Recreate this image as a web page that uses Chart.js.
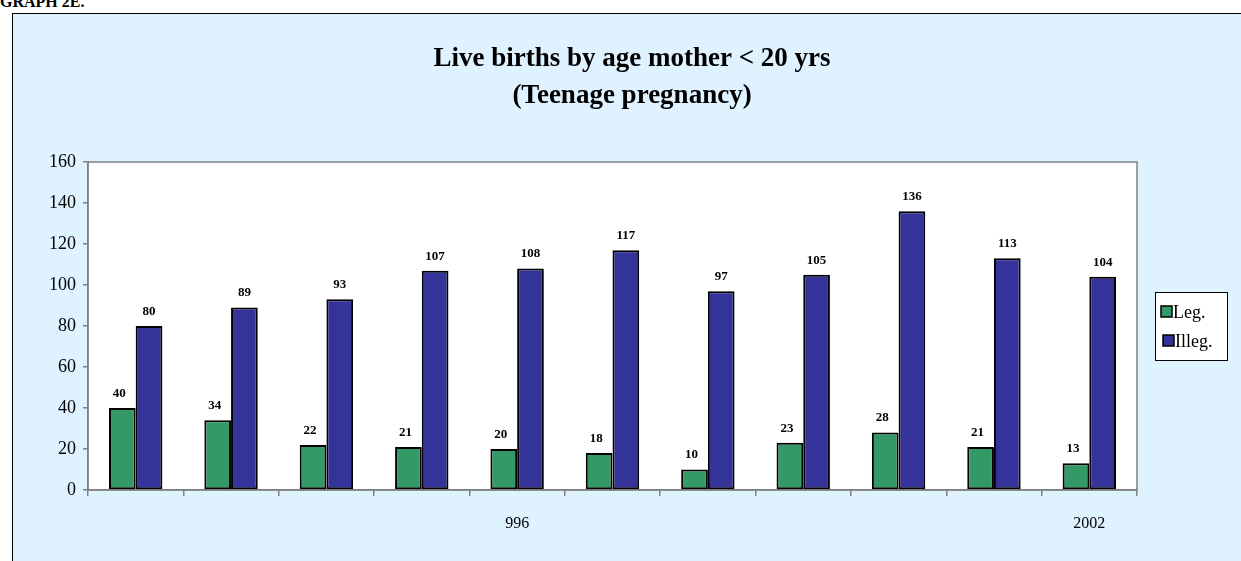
<!DOCTYPE html>
<html>
<head>
<meta charset="utf-8">
<script src="https://cdn.jsdelivr.net/npm/chart.js@4.4.1/dist/chart.umd.min.js"></script>
<style>
  html, body { margin: 0; padding: 0; background: #ffffff; width: 1241px; height: 561px; overflow: hidden; }
  #hdr { position: absolute; left: 0px; top: -7px; font: bold 16px "Liberation Serif", serif; color: #000; }
  #box { position: absolute; left: 12px; top: 13px; width: 1240px; height: 560px; border: 1px solid #000; background: #dff2ff; box-sizing: border-box; border-width: 1px 0 0 1px; }
  #c { position: absolute; left: 0; top: 0; }
</style>
</head>
<body>
<div id="hdr">GRAPH 2E.</div>
<div id="box"></div>
<canvas id="c" width="1241" height="561"></canvas>
<script>
const categories = ['', '', '', '', '996', '', '', '', '', '', '2002'];
const legValues = [40, 34, 22, 21, 20, 18, 10, 23, 28, 21, 13];
const illegValues = [80, 89, 93, 107, 108, 117, 97, 105, 136, 113, 104];
const yTicks = [0, 20, 40, 60, 80, 100, 120, 140, 160];
const seriesNames = ['Leg.', 'Illeg.'];
const titleLines = ['Live births by age mother < 20 yrs', '(Teenage pregnancy)'];

const SERIF = '"Liberation Serif", "Times New Roman", serif';

const plotBg = {
  id: 'plotBg',
  beforeDraw(chart) {
    const a = chart.chartArea, ctx = chart.ctx;
    ctx.save();
    ctx.fillStyle = '#ffffff';
    ctx.fillRect(a.left, a.top, a.right - a.left, a.bottom - a.top);
    ctx.strokeStyle = '#808080';
    ctx.lineWidth = 1.5;
    ctx.strokeRect(a.left, a.top, a.right - a.left, a.bottom - a.top);
    ctx.restore();
  }
};

const centeredTitle = {
  id: 'centeredTitle',
  afterDraw(chart) {
    const ctx = chart.ctx;
    ctx.save();
    ctx.font = 'bold 27px ' + SERIF;
    ctx.fillStyle = '#000';
    ctx.textAlign = 'center';
    ctx.textBaseline = 'middle';
    titleLines.forEach((t, i) => ctx.fillText(t, 632, 59 + i * 37));
    ctx.restore();
  }
};

const valueLabels = {
  id: 'valueLabels',
  afterDatasetsDraw(chart) {
    const ctx = chart.ctx;
    ctx.save();
    ctx.font = 'bold 13px ' + SERIF;
    ctx.fillStyle = '#000';
    ctx.textAlign = 'center';
    ctx.textBaseline = 'bottom';
    chart.data.datasets.forEach((ds, i) => {
      chart.getDatasetMeta(i).data.forEach((bar, j) => {
        ctx.fillText(String(ds.data[j]), bar.x - (i === 0 ? 3 : 0), bar.y - 8);
      });
    });
    ctx.restore();
  }
};

const boxLegend = {
  id: 'boxLegend',
  afterDraw(chart) {
    const ctx = chart.ctx;
    const x = 1155, y = 292, w = 72, h = 68;
    ctx.save();
    ctx.fillStyle = '#ffffff';
    ctx.fillRect(x, y, w, h);
    ctx.strokeStyle = '#000';
    ctx.lineWidth = 1;
    ctx.strokeRect(x + 0.5, y + 0.5, w, h);
    ctx.font = '18px ' + SERIF;
    ctx.textBaseline = 'middle';
    chart.data.datasets.forEach((ds, i) => {
      const cy = y + 20 + i * 29;
      const bx = x + 6 + (i === 1 ? 2 : 0);
      ctx.fillStyle = ds.backgroundColor;
      ctx.fillRect(bx, cy - 6, 11, 11);
      ctx.strokeStyle = '#000';
      ctx.lineWidth = 1.5;
      ctx.strokeRect(bx, cy - 6, 11, 11);
      ctx.fillStyle = '#000';
      ctx.fillText(ds.label, bx + 12, cy + 1);
    });
    ctx.restore();
  }
};

new Chart(document.getElementById('c'), {
  type: 'bar',
  data: {
    labels: categories,
    datasets: [
      { label: seriesNames[0], data: legValues, backgroundColor: '#339966', borderColor: '#000', borderWidth: 2, borderSkipped: false },
      { label: seriesNames[1], data: illegValues, backgroundColor: '#333399', borderColor: '#000', borderWidth: 2, borderSkipped: false }
    ]
  },
  options: {
    responsive: false,
    animation: false,
    layout: { padding: { left: 0, right: 104, top: 162, bottom: 0 } },
    datasets: { bar: { categoryPercentage: 0.56, barPercentage: 1.0 } },
    plugins: {
      legend: { display: false },
      tooltip: { enabled: false },
      title: { display: false }
    },
    scales: {
      x: {
        grid: { display: true, drawOnChartArea: false, offset: true, tickLength: 6, color: '#808080', lineWidth: 1.5 },
        border: { display: true, color: '#808080', width: 1.5 },
        ticks: { font: { family: SERIF, size: 16 }, color: '#000', padding: 18, maxRotation: 0, autoSkip: false },
        afterFit(s) { s.height = 71; }
      },
      y: {
        min: 0, max: 160,
        afterBuildTicks(s) { s.ticks = yTicks.map(v => ({ value: v })); },
        grid: { display: true, drawOnChartArea: false, tickLength: 5, color: '#808080', lineWidth: 1.5 },
        border: { display: true, color: '#808080', width: 1.5 },
        ticks: { font: { family: SERIF, size: 18 }, color: '#000', padding: 7 },
        afterFit(s) { s.width = 88; }
      }
    }
  },
  plugins: [plotBg, valueLabels, boxLegend, centeredTitle]
});
</script>
</body>
</html>
